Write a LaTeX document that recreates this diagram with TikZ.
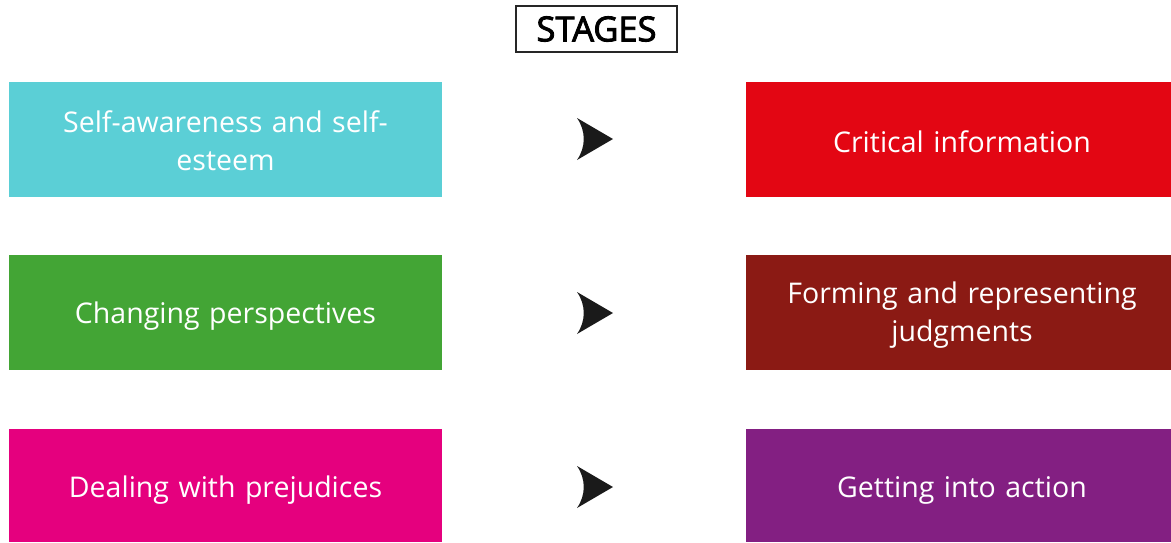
\documentclass[tikz,border=0pt]{standalone}
\usepackage{fontspec}
\setmainfont{Open Sans}
\usetikzlibrary{calc}
\definecolor{cCyan}{HTML}{5BCFD6}
\definecolor{cRed}{HTML}{E30613}
\definecolor{cGreen}{HTML}{43A535}
\definecolor{cDarkRed}{HTML}{8B1A14}
\definecolor{cMagenta}{HTML}{E5007E}
\definecolor{cPurple}{HTML}{831F82}
\definecolor{cArrow}{HTML}{1A1A1A}
\tikzset{
  stagebox/.style={rectangle, inner sep=0pt, outer sep=0pt, text=white,
    font=\fontsize{28.5}{38}\selectfont, align=center, text width=420pt},
  titlebox/.style={rectangle, draw=black!85, line width=1.2pt, inner sep=0pt,
    minimum width=161pt, minimum height=46pt,
    font=\fontsize{34.5}{38}\selectfont\addfontfeatures{FakeBold=2.5}},
  pics/stagearrow/.style={code={
    \fill[cArrow] (18pt,0) -- (-18pt,21pt) .. controls (-9pt,8pt) and (-9pt,-8pt) .. (-18pt,-21pt) -- cycle;
  }}
}
\begin{document}
\begin{tikzpicture}[x=1pt,y=1pt]
\useasboundingbox (0,0) rectangle (1171,-542);
\node[titlebox] (title) at (596.5,-29) {STAGES};
% left column
\fill[cCyan] (9,-82) rectangle (442,-197);
\node[stagebox] (l1) at (225.5,-141) {Self-awareness and self-\\esteem};
\fill[cGreen] (9,-255) rectangle (442,-370);
\node[stagebox] (l2) at (225.5,-316) {Changing perspectives};
\fill[cMagenta] (9,-429) rectangle (442,-542);
\node[stagebox] (l3) at (225.5,-490) {Dealing with prejudices};
% right column
\fill[cRed] (746,-82) rectangle (1171,-197);
\node[stagebox] (r1) at (962,-141.5) {Critical information};
\fill[cDarkRed] (746,-255) rectangle (1171,-370);
\node[stagebox] (r2) at (962,-315) {Forming and representing\\judgments};
\fill[cPurple] (746,-429) rectangle (1171,-542);
\node[stagebox] (r3) at (962,-490) {Getting into action};
% arrows
\pic at (595,-139) {stagearrow};
\pic at (595,-313) {stagearrow};
\pic at (595,-487) {stagearrow};
\end{tikzpicture}
\end{document}
